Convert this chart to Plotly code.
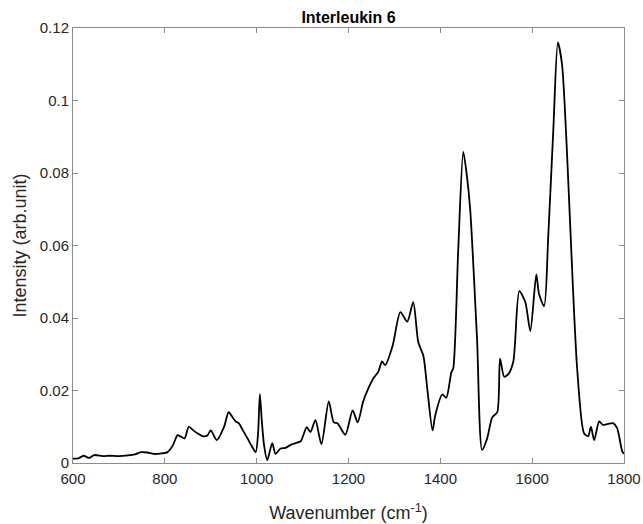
import plotly.graph_objects as go

wavenumber = [600, 612, 623, 635, 646, 665, 680, 700, 720, 735, 748, 762, 776, 790, 806, 818, 828, 843, 852, 862, 871, 882, 892, 900, 913, 929, 939, 948, 954, 961, 970, 980, 990, 998, 1003, 1007, 1011, 1016, 1023, 1034, 1041, 1052, 1063, 1074, 1085, 1096, 1109, 1117, 1128, 1141, 1157, 1168, 1176, 1193, 1209, 1220, 1232, 1243, 1255, 1265, 1273, 1280, 1296, 1313, 1328, 1341, 1352, 1363, 1372, 1383, 1389, 1404, 1413, 1424, 1428, 1439, 1450, 1458, 1465, 1480, 1491, 1502, 1513, 1524, 1530, 1539, 1548, 1559, 1572, 1585, 1596, 1609, 1615, 1626, 1635, 1646, 1656, 1665, 1675, 1683, 1698, 1713, 1722, 1728, 1735, 1746, 1754, 1765, 1776, 1785, 1796, 1800]
intensity = [0.0012, 0.0013, 0.0020, 0.0014, 0.0022, 0.0019, 0.0020, 0.0019, 0.0021, 0.0024, 0.0030, 0.0029, 0.0025, 0.0026, 0.0030, 0.0050, 0.0077, 0.0068, 0.0100, 0.0090, 0.0082, 0.0074, 0.0075, 0.0090, 0.0063, 0.0100, 0.0140, 0.0125, 0.0115, 0.0110, 0.0090, 0.0068, 0.0045, 0.0030, 0.0080, 0.0190, 0.0120, 0.0050, 0.0008, 0.0055, 0.0025, 0.0040, 0.0042, 0.0050, 0.0055, 0.0060, 0.0099, 0.0085, 0.0118, 0.0052, 0.0170, 0.0112, 0.0110, 0.0078, 0.0145, 0.0112, 0.0170, 0.0205, 0.0235, 0.0252, 0.0280, 0.0270, 0.0323, 0.0416, 0.0390, 0.0444, 0.0333, 0.0296, 0.0200, 0.0090, 0.0132, 0.0189, 0.0180, 0.0250, 0.0260, 0.0589, 0.0858, 0.0790, 0.0700, 0.0340, 0.0036, 0.0068, 0.0126, 0.0140, 0.0288, 0.0238, 0.0245, 0.0280, 0.0474, 0.0444, 0.0364, 0.0520, 0.0466, 0.0433, 0.0625, 0.0918, 0.1160, 0.1100, 0.0880, 0.0650, 0.0260, 0.0082, 0.0074, 0.0100, 0.0063, 0.0115, 0.0105, 0.0108, 0.0110, 0.0096, 0.0033, 0.0025]

x_ticks = [600, 800, 1000, 1200, 1400, 1600, 1800]
y_ticks = [0, 0.02, 0.04, 0.06, 0.08, 0.1, 0.12]
y_tick_labels = ["0", "0.02", "0.04", "0.06", "0.08", "0.1", "0.12"]

FONT = "Liberation Sans, Arial"

fig = go.Figure()
fig.add_trace(go.Scatter(
    x=wavenumber, y=intensity, mode="lines",
    line=dict(color="black", width=1.8, shape="spline", smoothing=0.7),
    showlegend=False,
))

axis_common = dict(
    showline=True, linecolor="#8c8c8c", linewidth=1, mirror="ticks",
    ticks="inside", ticklen=5, tickcolor="#8c8c8c", showgrid=False,
    zeroline=False, automargin=False,
    tickfont=dict(family=FONT, size=15, color="#262626"),
)

fig.update_layout(
    width=643, height=524,
    margin=dict(l=73, r=19, t=28, b=61),
    paper_bgcolor="white", plot_bgcolor="white",
    title=dict(text="<b>Interleukin 6</b>", x=(73 + 624) / 2 / 643, xanchor="center",
               xref="container", y=1 - 17 / 524, yanchor="middle",
               font=dict(family=FONT, size=16, color="black")),
    xaxis=dict(range=[600, 1800], tickvals=x_ticks, ticklabelstandoff=2,
               title=dict(text="Wavenumber (cm<sup>-1</sup>)", standoff=20,
                          font=dict(family=FONT, size=18, color="#262626")),
               **axis_common),
    yaxis=dict(range=[0, 0.12], tickvals=y_ticks, ticktext=y_tick_labels,
               title=dict(text="Intensity (arb.unit)", standoff=8,
                          font=dict(family=FONT, size=18, color="#262626")),
               **axis_common),
)

fig.write_html("out.html")
